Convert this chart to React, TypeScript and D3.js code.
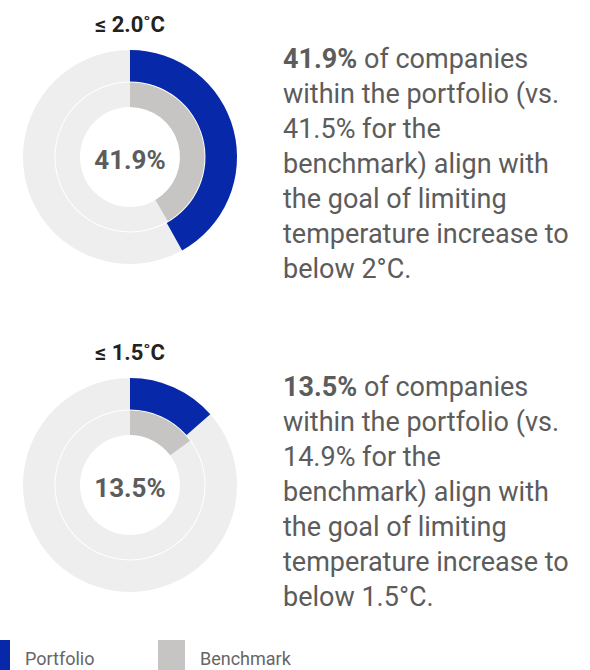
import React from 'react'
import * as d3 from 'd3'

const thresholds = ['≤ 2.0˚C', '≤ 1.5˚C']
const portfolio = [41.9, 13.5]
const benchmark = [41.5, 14.9]
const descriptions = [
  ['of companies', 'within the portfolio (vs.', '41.5% for the', 'benchmark) align with', 'the goal of limiting', 'temperature increase to', 'below 2°C.'],
  ['of companies', 'within the portfolio (vs.', '14.9% for the', 'benchmark) align with', 'the goal of limiting', 'temperature increase to', 'below 1.5°C.']
]
const legendLabels = ['Portfolio', 'Benchmark']

const BLUE = '#0628a9'
const GREY = '#c6c5c4'
const TRACK = '#eeeeee'
const TEXT = '#5c5c5c'

const width = 590
const height = 670
const dims = { cx: 130, rOuter: 107, rMid: 75, rInner: 50, rowTop: [157, 485], textX: 283 }

const angle = d3.scaleLinear().domain([0, 100]).range([0, 2 * Math.PI])

const outerArc = d3.arc<any>().innerRadius(dims.rMid + 0.5).outerRadius(dims.rOuter)
const innerArc = d3.arc<any>().innerRadius(dims.rInner).outerRadius(dims.rMid - 0.5)

const Donut = ({ i }: { i: number }) => {
  const cy = dims.rowTop[i]
  return (
    <g>
      <text x={dims.cx} y={cy - 125} textAnchor='middle' fontSize={22} fontWeight={700} fill='#222'>
        {thresholds[i]}
      </text>
      <g transform={`translate(${dims.cx},${cy})`}>
        <path d={outerArc({ startAngle: 0, endAngle: angle(100) }) || ''} fill={TRACK} />
        <path d={innerArc({ startAngle: 0, endAngle: angle(100) }) || ''} fill={TRACK} />
        <path d={outerArc({ startAngle: 0, endAngle: angle(portfolio[i]) }) || ''} fill={BLUE} />
        <path d={innerArc({ startAngle: 0, endAngle: angle(benchmark[i]) }) || ''} fill={GREY} />
        <text y={12} textAnchor='middle' fontSize={26} fontWeight={700} fill={TEXT}>
          {portfolio[i].toFixed(1)}%
        </text>
      </g>
      <text x={dims.textX} fontSize={27} fill={TEXT}>
        {descriptions[i].map((line, j) => (
          <tspan key={j} x={dims.textX} y={cy - 89 + j * 35}>
            {j === 0 ? (
              <>
                <tspan fontWeight={700}>{portfolio[i].toFixed(1)}%</tspan> {line}
              </>
            ) : (
              line
            )}
          </tspan>
        ))}
      </text>
    </g>
  )
}

const App = () => {
  const legendX = [-17, 158]
  const legendColors = [BLUE, GREY]
  return (
    <svg
      width={width}
      height={height}
      style={{ position: 'absolute', left: 0, top: 0, fontFamily: 'Roboto, sans-serif' }}
    >
      <rect width={width} height={height} fill='#fff' />
      {thresholds.map((_, i) => (
        <Donut key={i} i={i} />
      ))}
      {legendLabels.map((l, i) => (
        <g key={l}>
          <rect x={legendX[i]} y={640} width={27} height={30} fill={legendColors[i]} />
          <text x={legendX[i] + 42} y={665} fontSize={18} fill='#666'>
            {l}
          </text>
        </g>
      ))}
    </svg>
  )
}

export default App
